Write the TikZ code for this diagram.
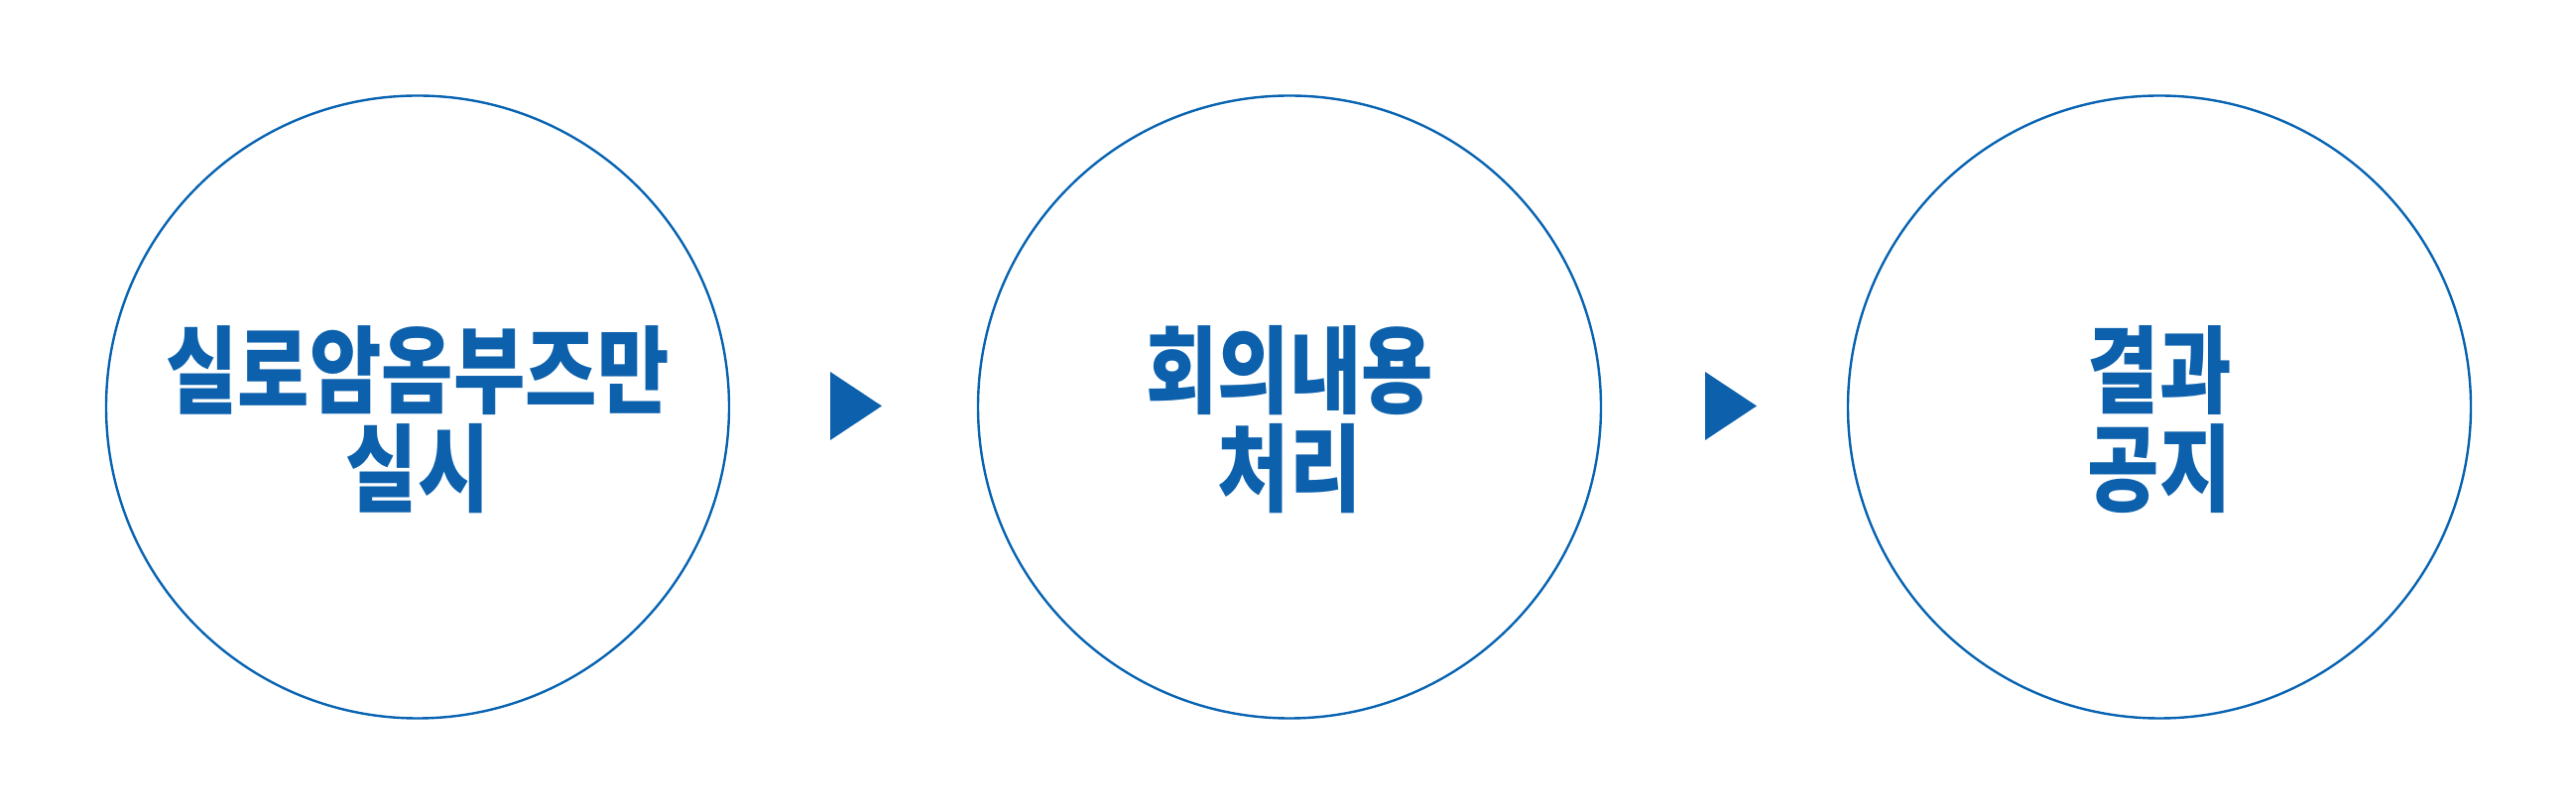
\documentclass[tikz,border=0pt]{standalone}
\usepackage{fontspec}
\usepackage{graphicx}
\newfontfamily\krfont{Noto Sans CJK KR}
\definecolor{mainblue}{RGB}{13,97,172}
\definecolor{lineblue}{RGB}{8,100,178}
\begin{document}
\begin{tikzpicture}[x=1pt,y=1pt,
  stage/.style={circle, draw=lineblue, line width=2.4pt, minimum size=628pt, inner sep=0pt, outer sep=0pt},
  stagetext/.style={text=mainblue, font=\krfont\bfseries\fontsize{96}{99}\selectfont, align=center, inner sep=0pt},
  tri/.style={fill=mainblue}]
\useasboundingbox (0,0) rectangle (2597,819);
\fill[white] (0,0) rectangle (2597,819);
\node[stage] (c1) at (421,408.5) {};
\node[stage] (c2) at (1300,408.5) {};
\node[stage] (c3) at (2177,408.5) {};
\node[stagetext] (t1) at (c1.center) [yshift=-13pt] {\scalebox{0.82}[1]{실로암옴부즈만}\\\scalebox{0.82}[1]{실시}};
\node[stagetext] (t2) at (c2.center) [yshift=-13pt] {\scalebox{0.82}[1]{회의내용}\\\scalebox{0.82}[1]{처리}};
\node[stagetext] (t3) at (c3.center) [yshift=-13pt] {\scalebox{0.82}[1]{결과}\\\scalebox{0.82}[1]{공지}};
\coordinate (a1) at (863,409.5);
\coordinate (a2) at (1745,409.5);
\fill[tri] (a1) ++(-26,34.5) -- ++(52,-34.5) -- ++(-52,-34.5) -- cycle;
\fill[tri] (a2) ++(-26,34.5) -- ++(52,-34.5) -- ++(-52,-34.5) -- cycle;
\end{tikzpicture}
\end{document}
